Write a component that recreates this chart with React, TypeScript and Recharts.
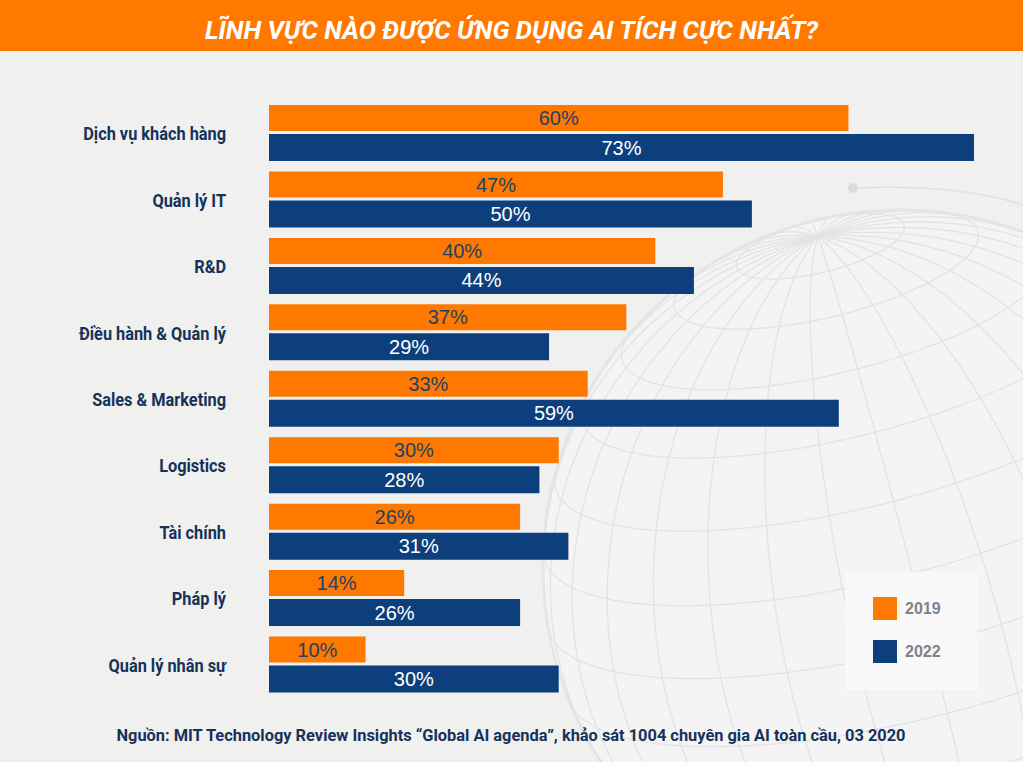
import React from "react";
import { BarChart, Bar, XAxis, YAxis, LabelList, Legend } from "recharts";

const categories = [
  "Dịch vụ khách hàng",
  "Quản lý IT",
  "R&D",
  "Điều hành & Quản lý",
  "Sales & Marketing",
  "Logistics",
  "Tài chính",
  "Pháp lý",
  "Quản lý nhân sự",
];
const values2019 = [60, 47, 40, 37, 33, 30, 26, 14, 10];
const values2022 = [73, 50, 44, 29, 59, 28, 31, 26, 30];
const seriesNames = ["2019", "2022"];
const titleText = "LĨNH VỰC NÀO ĐƯỢC ỨNG DỤNG AI TÍCH CỰC NHẤT?";
const sourceText =
  "Nguồn: MIT Technology Review Insights “Global AI agenda”, khảo sát 1004 chuyên gia AI toàn cầu, 03 2020";

const ORANGE = "#ff7800";
const NAVY = "#0c3f7c";
const TEXT_NAVY = "#15325a";
const W = 1023;
const H = 762;

const data = categories.map((name, i) => ({
  name,
  y2019: values2019[i],
  y2022: values2022[i],
}));

// decorative globe (orthographic projection)
function globePaths() {
  const C = { x: 900, y: 567 };
  const R = 357;
  let P = [-0.23, -0.925, 0.3];
  const n = Math.hypot(P[0], P[1], P[2]);
  P = P.map((v) => v / n);
  const d = P[0];
  let e1 = [1 - d * P[0], -d * P[1], -d * P[2]];
  const n1 = Math.hypot(e1[0], e1[1], e1[2]);
  e1 = e1.map((v) => v / n1);
  const e2 = [
    P[1] * e1[2] - P[2] * e1[1],
    P[2] * e1[0] - P[0] * e1[2],
    P[0] * e1[1] - P[1] * e1[0],
  ];
  const proj = (lat: number, lon: number) => {
    const a = (lat * Math.PI) / 180;
    const b = (lon * Math.PI) / 180;
    const c1 = Math.cos(a) * Math.cos(b);
    const c2 = Math.cos(a) * Math.sin(b);
    const s = Math.sin(a);
    const v = [0, 1, 2].map((k) => c1 * e1[k] + c2 * e2[k] + s * P[k]);
    return { x: C.x + R * v[0], y: C.y + R * v[1], vis: v[2] > 0 };
  };
  const paths: string[] = [];
  const trace = (fn: (t: number) => { x: number; y: number; vis: boolean }, from: number, to: number) => {
    let cur = "";
    for (let t = from; t <= to; t += 2) {
      const p = fn(t);
      if (p.vis) {
        cur += (cur ? " L" : "M") + p.x.toFixed(1) + "," + p.y.toFixed(1);
      } else if (cur) {
        paths.push(cur);
        cur = "";
      }
    }
    if (cur) paths.push(cur);
  };
  for (let lat = 76; lat > -90; lat -= 12) {
    trace((t) => proj(lat, t), -180, 180);
  }
  for (let lon = 0; lon < 360; lon += 12) {
    trace((t) => proj(t, lon), -90, 90);
  }
  return { paths, C, R };
}

const Background = () => {
  const { paths, C, R } = globePaths();
  return (
    <svg width={W} height={H} style={{ position: "absolute", left: 0, top: 0 }}>
      <rect x={0} y={0} width={W} height={H} fill="#f0f0ef" />
      <circle cx={C.x} cy={C.y} r={R} fill="#f4f4f4" stroke="#e4e5e7" strokeWidth={3} />
      {paths.map((p, i) => (
        <path key={i} d={p} fill="none" stroke="#e2e3e6" strokeWidth={1.3} />
      ))}
      <path d="M853,188 Q960,184 1023,205" fill="none" stroke="#e0e0e0" strokeWidth={1.5} />
      <circle cx={853} cy={188} r={5} fill="#dcdcdc" />
      <rect x={0} y={0} width={W} height={51} fill={ORANGE} />
      <text
        x={W / 2}
        y={39}
        textAnchor="middle"
        fill="#ffffff"
        fontFamily="Roboto, 'DejaVu Sans'"
        fontWeight={700}
        fontStyle="italic"
        fontSize={26}
        textLength={613}
        lengthAdjust="spacingAndGlyphs"
      >
        {titleText}
      </text>
      <text
        x={W / 2 - 0.5}
        y={741}
        textAnchor="middle"
        fill={TEXT_NAVY}
        fontFamily="Roboto, 'DejaVu Sans'"
        fontWeight={700}
        fontSize={17}
        textLength={789}
        lengthAdjust="spacingAndGlyphs"
      >
        {sourceText}
      </text>
    </svg>
  );
};

const CategoryTick = (props: any) => {
  const { x, y, payload } = props;
  return (
    <text
      transform={`translate(${x},${y}) scale(0.86,1)`}
      x={0}
      y={0}
      dy={7}
      textAnchor="end"
      fill={TEXT_NAVY}
      fontFamily="Roboto, 'DejaVu Sans'"
      fontWeight={700}
      fontSize={19}
    >
      {payload.value}
    </text>
  );
};

const LegendBox = () => {
  const colors = [ORANGE, NAVY];
  return (
    <div
      style={{
        width: 132,
        height: 118,
        background: "rgba(248,248,248,0.92)",
        position: "relative",
      }}
    >
      {seriesNames.map((s, i) => (
        <div
          key={s}
          style={{
            position: "absolute",
            left: 28,
            top: 25 + i * 43,
            display: "flex",
            alignItems: "center",
          }}
        >
          <div style={{ width: 24, height: 23, background: colors[i] }} />
          <span
            style={{
              marginLeft: 8,
              fontFamily: "'Liberation Sans', Arial, sans-serif",
              fontWeight: 700,
              fontSize: 16,
              color: "#7f838c",
            }}
          >
            {s}
          </span>
        </div>
      ))}
    </div>
  );
};

export default function App() {
  return (
    <div style={{ position: "absolute", left: 0, top: 0, width: W, height: H, overflow: "hidden" }}>
      <Background />
      <div style={{ position: "absolute", left: 0, top: 0 }}>
        <BarChart
          width={W}
          height={H}
          data={data}
          layout="vertical"
          margin={{ top: 100, right: 49, bottom: 64, left: 0 }}
          barGap={3}
        >
          <XAxis type="number" domain={[0, 73]} hide />
          <YAxis
            type="category"
            dataKey="name"
            width={269}
            axisLine={false}
            tickLine={false}
            tickSize={0}
            tickMargin={43}
            tick={<CategoryTick />}
            interval={0}
          />
          <Legend
            layout="horizontal"
            verticalAlign="middle"
            align="center"
            content={<LegendBox />}
            wrapperStyle={{ position: "absolute", left: 845, top: 572, width: 132, height: 118 }}
          />
          <Bar dataKey="y2019" name={seriesNames[0]} fill={ORANGE} barSize={26} isAnimationActive={false}>
            <LabelList
              dataKey="y2019"
              position="center"
              formatter={(v: any) => `${v}%`}
              fill="#1e4266"
              fontSize={20}
              fontFamily="'Liberation Sans', Arial, sans-serif"
            />
          </Bar>
          <Bar dataKey="y2022" name={seriesNames[1]} fill={NAVY} barSize={27} isAnimationActive={false}>
            <LabelList
              dataKey="y2022"
              position="center"
              formatter={(v: any) => `${v}%`}
              fill="#ffffff"
              fontSize={20}
              fontFamily="'Liberation Sans', Arial, sans-serif"
            />
          </Bar>
        </BarChart>
      </div>
    </div>
  );
}
